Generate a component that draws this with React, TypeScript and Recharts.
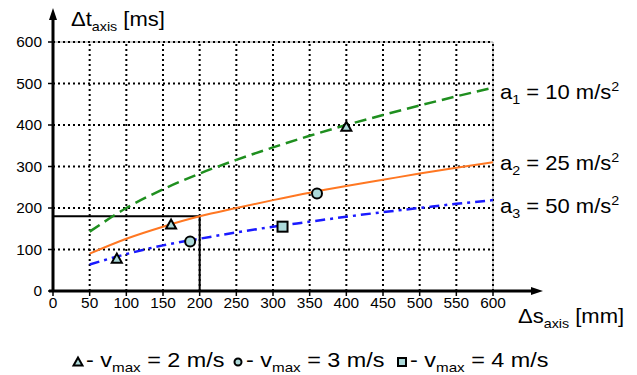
import React from "react";
import {
  ComposedChart,
  Line,
  Scatter,
  XAxis,
  YAxis,
  ReferenceLine,
} from "recharts";

// ---- data ----
const sValues = [50, 100, 150, 200, 250, 300, 350, 400, 450, 500, 550, 600];
const a1Values = [143, 200, 245, 283, 316, 346, 374, 400, 424, 447, 469, 490];
const a2Values = [90, 126, 155, 180, 200, 219, 237, 253, 268, 283, 297, 310];
const a3Values = [64, 89, 110, 126, 141, 155, 167, 179, 190, 200, 210, 219];

const v2S = [87, 161, 400];
const v2T = [78, 160, 396];
const v3S = [187, 360];
const v3T = [119, 235];
const v4S = [313];
const v4T = [155];

const xTicks = [0, 50, 100, 150, 200, 250, 300, 350, 400, 450, 500, 550, 600];
const yTicks = [0, 100, 200, 300, 400, 500, 600];
const xGrid = [50, 100, 150, 200, 250, 300, 350, 400, 450, 500, 550, 600];
const yGrid = [100, 200, 300, 400, 500, 600];

const guideS = 200;
const guideT = 180;

const seriesLabels = [
  { key: "a1", sub: "1", value: "10" },
  { key: "a2", sub: "2", value: "25" },
  { key: "a3", sub: "3", value: "50" },
];
const legendItems = [
  { shape: "triangle", v: "2" },
  { shape: "circle", v: "3" },
  { shape: "square", v: "4" },
];

const rows = sValues.map((s, i) => ({
  s,
  a1: a1Values[i],
  a2: a2Values[i],
  a3: a3Values[i],
}));
const v2Data = v2S.map((s, i) => ({ s, t: v2T[i] }));
const v3Data = v3S.map((s, i) => ({ s, t: v3T[i] }));
const v4Data = v4S.map((s, i) => ({ s, t: v4T[i] }));

// ---- styles ----
const FONT = "'Liberation Sans', Arial, Helvetica, sans-serif";
const SX = 1.1;
const MARK_FILL = "#acd9d9";
const GREEN = "#1f8f1f";
const ORANGE = "#ff7722";
const BLUE = "#1a1aff";
const BIG = 20;
const SUB = 13;

const SText = ({ x, y, anchor = "start", size = BIG, sx = SX, children }: any) => (
  <g transform={`translate(${x},${y}) scale(${sx},1)`}>
    <text x={0} y={0} textAnchor={anchor} fontSize={size} fontFamily={FONT} fill="#000">
      {children}
    </text>
  </g>
);

const TriShape = ({ cx, cy, r = 5 }: any) => (
  <polygon
    points={`${cx},${cy - r} ${cx - r},${cy + r * 0.8} ${cx + r},${cy + r * 0.8}`}
    fill={MARK_FILL}
    stroke="#000"
    strokeWidth={2}
    strokeLinejoin="miter"
  />
);
const CircShape = ({ cx, cy, r = 5 }: any) => (
  <circle cx={cx} cy={cy} r={r} fill={MARK_FILL} stroke="#000" strokeWidth={2} />
);
const SqShape = ({ cx, cy, r = 5 }: any) => (
  <rect x={cx - r} y={cy - r} width={2 * r} height={2 * r} fill={MARK_FILL} stroke="#000" strokeWidth={2} />
);

const XTick = ({ x, y, payload }: any) => (
  <SText x={x} y={y + 10} anchor="middle" size={14}>
    {payload.value}
  </SText>
);
const YTick = ({ x, y, payload }: any) => (
  <SText x={x} y={y + 5} anchor="end" size={14}>
    {payload.value}
  </SText>
);

const YAxisDecor = (props: any) => {
  const vb = props.viewBox || {};
  const ax = vb.x + vb.width;
  const bottom = vb.y + vb.height;
  const top = vb.y;
  return (
    <g>
      <line x1={ax} y1={bottom + 1} x2={ax} y2={top - 26} stroke="#000" strokeWidth={3} />
      <polygon points={`${ax},${top - 34} ${ax - 4},${top - 22} ${ax + 4},${top - 22}`} fill="#000" />
      <SText x={ax + 18} y={top - 16}>
        {"\u0394t"}
        <tspan fontSize={SUB} dy={5}>axis</tspan>
        <tspan dy={-5}>{" [ms]"}</tspan>
      </SText>
    </g>
  );
};

const XAxisDecor = (props: any) => {
  const vb = props.viewBox || {};
  const ay = vb.y;
  const left = vb.x;
  const right = vb.x + vb.width;
  return (
    <g>
      <line x1={left - 4} y1={ay} x2={right + 42} y2={ay} stroke="#000" strokeWidth={3} />
      <polygon points={`${right + 50},${ay} ${right + 38},${ay - 4} ${right + 38},${ay + 4}`} fill="#000" />
      <SText x={right + 25} y={ay + 32}>
        {"\u0394s"}
        <tspan fontSize={SUB} dy={5}>axis</tspan>
        <tspan dy={-5}>{" [mm]"}</tspan>
      </SText>
    </g>
  );
};

const labelDy = [11, 8, 13];
const makeEndLabel = (idx: number) => (props: any) => {
  const { x, y, index } = props;
  if (index !== sValues.length - 1) return null;
  const item = seriesLabels[idx];
  return (
    <SText key={item.key} x={x + 7} y={y + labelDy[idx]}>
      {"a"}
      <tspan fontSize={SUB} dy={5}>{item.sub}</tspan>
      <tspan dy={-5}>{` = ${item.value} m/s`}</tspan>
      <tspan fontSize={SUB} dy={-8}>2</tspan>
    </SText>
  );
};

const legendX = [78, 238, 402];
const Legendish = () => (
  <g>
    {legendItems.map((it, i) => {
      const cx = legendX[i];
      const cy = 362;
      return (
        <g key={it.shape}>
          {it.shape === "triangle" && <TriShape cx={cx} cy={cy} r={4.5} />}
          {it.shape === "circle" && <CircShape cx={cx} cy={cy} r={3.5} />}
          {it.shape === "square" && <SqShape cx={cx} cy={cy} r={4} />}
          <SText x={cx + 8} y={367} size={20} sx={1.17}>
            {"- v"}
            <tspan fontSize={SUB} dy={5}>max</tspan>
            <tspan dy={-5}>{` = ${it.v} m/s`}</tspan>
          </SText>
        </g>
      );
    })}
  </g>
);

export default function App() {
  return (
    <div style={{ position: "fixed", left: 0, top: 0, width: 637, height: 375, background: "#fff" }}>
      <ComposedChart
        width={637}
        height={375}
        data={rows}
        margin={{ top: 42, right: 144, bottom: 54, left: 0 }}
      >
        <XAxis
          dataKey="s"
          type="number"
          domain={[0, 600]}
          ticks={xTicks}
          interval={0}
          allowDataOverflow
          height={30}
          axisLine={false}
          tickLine={{ stroke: "#000", strokeWidth: 1.5 }}
          tickSize={5}
          tickMargin={2}
          tick={<XTick />}
          label={<XAxisDecor />}
        />
        <YAxis
          type="number"
          domain={[0, 600]}
          ticks={yTicks}
          interval={0}
          allowDataOverflow
          width={53}
          axisLine={false}
          tickLine={{ stroke: "#000", strokeWidth: 1.5 }}
          tickSize={5}
          tickMargin={6}
          tick={<YTick />}
          label={<YAxisDecor />}
        />
        <ReferenceLine y={600} stroke="#999" strokeWidth={1} />
        <ReferenceLine x={600} stroke="#999" strokeWidth={1} />
        {xGrid.map((g) => (
          <ReferenceLine key={"vx" + g} x={g} stroke="#000" strokeWidth={2} strokeDasharray="2 3" />
        ))}
        {yGrid.map((g) => (
          <ReferenceLine key={"hy" + g} y={g} stroke="#000" strokeWidth={2} strokeDasharray="2 3" />
        ))}
        <ReferenceLine
          segment={[{ x: 0, y: guideT }, { x: guideS, y: guideT }]}
          stroke="#000"
          strokeWidth={2}
        />
        <ReferenceLine
          segment={[{ x: guideS, y: 0 }, { x: guideS, y: guideT }]}
          stroke="#000"
          strokeWidth={2}
        />
        <Line
          dataKey="a1"
          type="monotone"
          stroke={GREEN}
          strokeWidth={2.5}
          strokeDasharray="12 6"
          dot={false}
          isAnimationActive={false}
          label={makeEndLabel(0)}
        />
        <Line
          dataKey="a2"
          type="monotone"
          stroke={ORANGE}
          strokeWidth={2}
          dot={false}
          isAnimationActive={false}
          label={makeEndLabel(1)}
        />
        <Line
          dataKey="a3"
          type="monotone"
          stroke={BLUE}
          strokeWidth={2.5}
          strokeDasharray="10 5 3 5"
          dot={false}
          isAnimationActive={false}
          label={makeEndLabel(2)}
        />
        <Scatter data={v2Data} dataKey="t" shape={<TriShape />} isAnimationActive={false} />
        <Scatter data={v3Data} dataKey="t" shape={<CircShape />} isAnimationActive={false} />
        <Scatter data={v4Data} dataKey="t" shape={<SqShape />} isAnimationActive={false} />
        <Legendish />
      </ComposedChart>
    </div>
  );
}
